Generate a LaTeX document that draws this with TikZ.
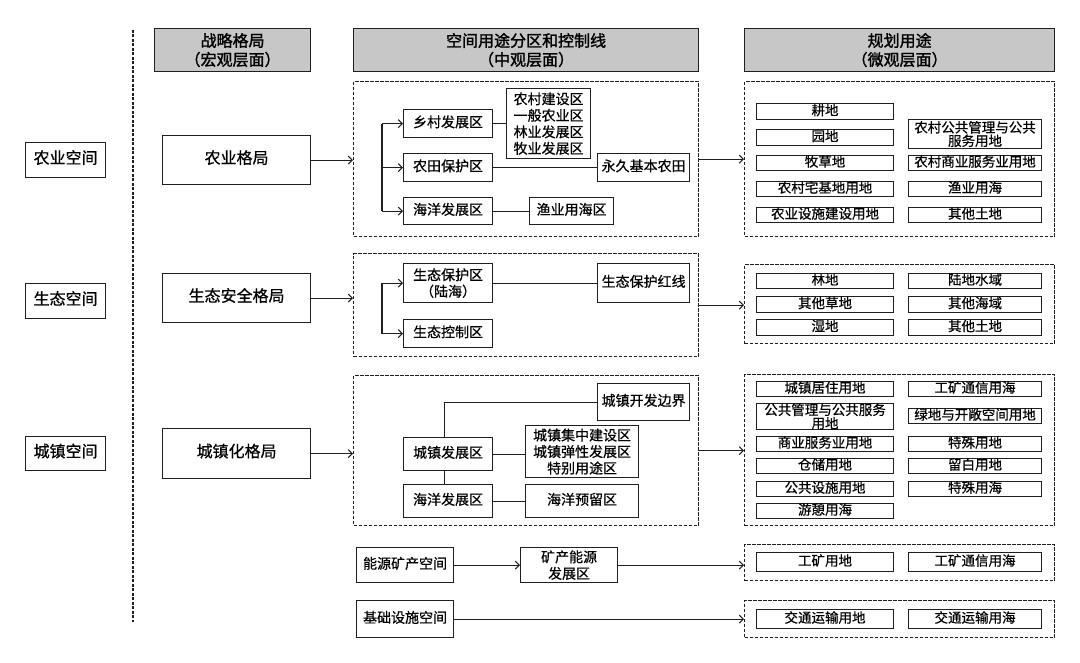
\documentclass[tikz,border=0pt]{standalone}
\usepackage{fontspec}
\newfontfamily\cjk{Noto Sans CJK SC}[FakeBold=0.6]
\newfontfamily\cjkb{Noto Sans CJK SC}[FakeBold=1.5]
\usetikzlibrary{arrows.meta}

\begin{document}
\begin{tikzpicture}[x=1pt,y=1pt,yscale=-1,xscale=1,
  >={Straight Barb[length=4pt,width=8pt]},
  bx/.style={draw=black!88,line width=1.2pt,inner sep=0pt,align=center,anchor=north west},
  ln/.style={text height=0.82em,text depth=0.1em},
  hd/.style={bx,fill=black!22,font=\cjkb\fontsize{16}{19}\selectfont},
  big/.style={bx,ln,font=\cjk\fontsize{16}{18}\selectfont},
  mid/.style={bx,font=\cjk\fontsize{14}{16.5}\selectfont},
  itm/.style={bx,line width=1.1pt,font=\cjk\fontsize{13.5}{12}\selectfont},
  dbox/.style={draw=black!88,line width=1.3pt,dash pattern=on 3.5pt off 1.5pt,inner sep=0pt,anchor=north west},
  lk/.style={draw=black!88,line width=1.1pt}]
\useasboundingbox (0,0) rectangle (1080,663);

%Dashed separator
\coordinate (vt) at (133,30);
\coordinate (vb) at (133,622);
\draw[black!88,line width=1.3pt,dash pattern=on 3pt off 1.5pt] (vt) -- (vb);

%Headers
\node[hd,minimum width=156pt,minimum height=43pt] (h1) at (154,28) {战略格局\\（宏观层面）};
\node[hd,minimum width=345pt,minimum height=43pt] (h2) at (353,28) {空间用途分区和控制线\\（中观层面）};
\node[hd,minimum width=310pt,minimum height=43pt] (h3) at (744,28) {规划用途\\（微观层面）};

%Spaces
\node[big,minimum width=80pt,minimum height=35pt] (nyk) at (25,142) {农业空间};
\node[big,minimum width=80pt,minimum height=35pt] (stk) at (25,283) {生态空间};
\node[big,minimum width=80pt,minimum height=34pt] (czk) at (25,436) {城镇空间};

%Patterns
\node[big,minimum width=148pt,minimum height=49pt] (nygj) at (162,135) {农业格局};
\node[big,minimum width=148pt,minimum height=49pt] (aqgj) at (162,273) {生态安全格局};
\node[big,minimum width=148pt,minimum height=50pt] (czgj) at (162,428) {城镇化格局};

%Dashed groups
\node[dbox,minimum width=345pt,minimum height=155pt] (mA) at (353,81) {};
\node[dbox,minimum width=345pt,minimum height=103pt] (mB) at (353,253) {};
\node[dbox,minimum width=345pt,minimum height=150pt] (mC) at (353,375) {};
\node[dbox,minimum width=310pt,minimum height=155pt] (rA) at (744,81) {};
\node[dbox,minimum width=310pt,minimum height=79pt] (rB) at (744,264) {};
\node[dbox,minimum width=310pt,minimum height=151pt] (rC) at (744,374) {};
\node[dbox,minimum width=310pt,minimum height=36pt] (rD) at (744,544) {};
\node[dbox,minimum width=310pt,minimum height=37pt] (rE) at (744,600) {};

%Agricultural zones
\node[mid,ln,minimum width=89pt,minimum height=28pt] (xc) at (403,109) {乡村发展区};
\node[mid,ln,minimum width=89pt,minimum height=28pt] (nt) at (403,153) {农田保护区};
\node[mid,ln,minimum width=89pt,minimum height=27pt] (hy1) at (403,197) {海洋发展区};
\node[mid,minimum width=84pt,minimum height=70pt] (xq) at (506,88) {农村建设区\\一般农业区\\林业发展区\\牧业发展区};
\node[mid,ln,minimum width=92pt,minimum height=28pt] (yj) at (597,153) {永久基本农田};
\node[mid,ln,minimum width=84pt,minimum height=27pt] (yy) at (529,197) {渔业用海区};

%Ecological zones
\node[mid,minimum width=89pt,minimum height=39pt] (bh) at (403,263) {生态保护区\\（陆海）};
\node[mid,ln,minimum width=89pt,minimum height=28pt] (kz) at (403,319) {生态控制区};
\node[mid,ln,minimum width=92pt,minimum height=39pt] (hx) at (597,263) {生态保护红线};

%Urban zones
\node[mid,ln,minimum width=92pt,minimum height=37pt] (bj) at (597,383) {城镇开发边界};
\node[mid,ln,minimum width=89pt,minimum height=33pt] (cz) at (403,437) {城镇发展区};
\node[mid,minimum width=113pt,minimum height=52pt] (jz) at (525,425) {城镇集中建设区\\城镇弹性发展区\\特别用途区};
\node[mid,ln,minimum width=89pt,minimum height=33pt] (hy2) at (403,484) {海洋发展区};
\node[mid,ln,minimum width=113pt,minimum height=33pt] (yl) at (525,484) {海洋预留区};

%Energy and infrastructure
\node[mid,ln,minimum width=97pt,minimum height=35pt] (ny) at (356,547) {能源矿产空间};
\node[mid,minimum width=97pt,minimum height=35pt] (kc) at (520,547) {矿产能源\\发展区};
\node[mid,ln,minimum width=97pt,minimum height=37pt] (jc) at (356,600) {基础设施空间};

%Land uses: agricultural
\node[itm,ln,minimum width=137pt,minimum height=16pt] (gd) at (756,103) {耕地};
\node[itm,ln,minimum width=137pt,minimum height=16pt] (yd) at (756,129) {园地};
\node[itm,ln,minimum width=137pt,minimum height=15pt] (mc) at (756,155) {牧草地};
\node[itm,ln,minimum width=137pt,minimum height=15pt] (zj) at (756,181) {农村宅基地用地};
\node[itm,ln,minimum width=137pt,minimum height=15pt] (ss) at (756,207) {农业设施建设用地};
\node[itm,minimum width=133pt,minimum height=29pt] (gg) at (908,119) {农村公共管理与公共\\服务用地};
\node[itm,ln,minimum width=133pt,minimum height=15pt] (sy) at (908,155) {农村商业服务业用地};
\node[itm,ln,minimum width=133pt,minimum height=15pt] (yh) at (908,181) {渔业用海};
\node[itm,ln,minimum width=133pt,minimum height=15pt] (qt1) at (908,207) {其他土地};

%Land uses: ecological
\node[itm,ln,minimum width=137pt,minimum height=15pt] (ld) at (756,273) {林地};
\node[itm,ln,minimum width=137pt,minimum height=16pt] (cd) at (756,296) {其他草地};
\node[itm,ln,minimum width=137pt,minimum height=16pt] (sd) at (756,319) {湿地};
\node[itm,ln,minimum width=133pt,minimum height=15pt] (ls) at (908,273) {陆地水域};
\node[itm,ln,minimum width=133pt,minimum height=16pt] (hyu) at (908,296) {其他海域};
\node[itm,ln,minimum width=133pt,minimum height=16pt] (qt2) at (908,319) {其他土地};

%Land uses: urban
\node[itm,ln,minimum width=137pt,minimum height=15pt] (jzd) at (756,381) {城镇居住用地};
\node[itm,minimum width=137pt,minimum height=25pt] (gf) at (756,403) {公共管理与公共服务\\用地};
\node[itm,ln,minimum width=137pt,minimum height=15pt] (syf) at (756,436) {商业服务业用地};
\node[itm,ln,minimum width=137pt,minimum height=15pt] (cc) at (756,458) {仓储用地};
\node[itm,ln,minimum width=137pt,minimum height=15pt] (gs) at (756,481) {公共设施用地};
\node[itm,ln,minimum width=137pt,minimum height=15pt] (yq) at (756,503) {游憩用海};
\node[itm,ln,minimum width=133pt,minimum height=15pt] (gk) at (908,381) {工矿通信用海};
\node[itm,ln,minimum width=133pt,minimum height=15pt] (ldk) at (908,408) {绿地与开敞空间用地};
\node[itm,ln,minimum width=133pt,minimum height=15pt] (ts) at (908,436) {特殊用地};
\node[itm,ln,minimum width=133pt,minimum height=15pt] (lb) at (908,458) {留白用地};
\node[itm,ln,minimum width=133pt,minimum height=15pt] (th) at (908,481) {特殊用海};

%Land uses: energy, infrastructure
\node[itm,ln,minimum width=137pt,minimum height=19pt] (gkd) at (756,552) {工矿用地};
\node[itm,ln,minimum width=133pt,minimum height=19pt] (gkh) at (908,552) {工矿通信用海};
\node[itm,ln,minimum width=137pt,minimum height=19pt] (jtd) at (756,609) {交通运输用地};
\node[itm,ln,minimum width=133pt,minimum height=19pt] (jth) at (908,609) {交通运输用海};

%Connectors between columns
\draw[lk,->] (nygj.east) -- (nygj.east -| mA.west);
\draw[lk,->] (aqgj.east) -- (aqgj.east -| mB.west);
\draw[lk,->] (czgj.east) -- (czgj.east -| mC.west);
\draw[lk,->] (mA.east) -- (rA.west);
\draw[lk,->] (mB.east) -- (mB.east -| rB.west);
\draw[lk,->] (mC.east) -- (mC.east -| rC.west);
\draw[lk,->] (ny.east) -- (kc.west);
\draw[lk,->] (kc.east) -- (kc.east -| rD.west);
\draw[lk,->] (jc.east) -- (jc.east -| rE.west);

%Branches inside groups
\coordinate (ta) at (382,0);
\draw[lk] (ta |- xc.west) -- (ta |- hy1.west);
\draw[lk,->] (ta |- xc.west) -- (xc.west);
\draw[lk,->] (ta |- nt.west) -- (nt.west);
\draw[lk,->] (ta |- hy1.west) -- (hy1.west);
\draw[lk] (xc.east) -- (xc.east -| xq.west);
\draw[lk] (nt.east) -- (yj.west);
\draw[lk] (hy1.east) -- (hy1.east -| yy.west);

\draw[lk] (ta |- bh.west) -- (ta |- kz.west);
\draw[lk,->] (ta |- bh.west) -- (bh.west);
\draw[lk,->] (ta |- kz.west) -- (kz.west);
\draw[lk] (bh.east) -- (hx.west);

\draw[lk] ([xshift=-4pt]cz.north) |- (bj.west);
\draw[lk] ([xshift=-4pt]cz.south) -- ([xshift=-4pt]hy2.north);
\draw[lk] (cz.east) -- (cz.east -| jz.west);
\draw[lk] (hy2.east) -- (yl.west);

\end{tikzpicture}
\end{document}
